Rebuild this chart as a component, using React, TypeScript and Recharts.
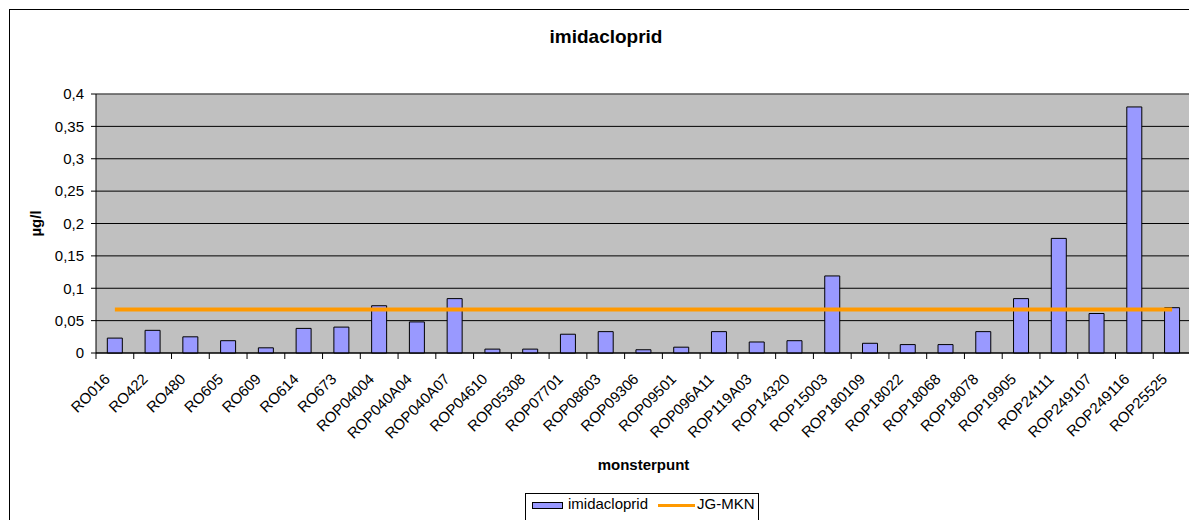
import { ComposedChart, Bar, Line, XAxis, YAxis, CartesianGrid, Legend, ReferenceLine } from 'recharts'

const monsterpunten = [
  'RO016', 'RO422', 'RO480', 'RO605', 'RO609', 'RO614', 'RO673', 'ROP04004', 'ROP040A04', 'ROP040A07',
  'ROP04610', 'ROP05308', 'ROP07701', 'ROP08603', 'ROP09306', 'ROP09501', 'ROP096A11', 'ROP119A03', 'ROP14320',
  'ROP15003', 'ROP180109', 'ROP18022', 'ROP18068', 'ROP18078', 'ROP19905', 'ROP24111', 'ROP249107', 'ROP249116',
  'ROP25525',
]
const imidacloprid = [
  0.023, 0.035, 0.025, 0.019, 0.008, 0.038, 0.040, 0.073, 0.048, 0.084,
  0.006, 0.006, 0.029, 0.033, 0.005, 0.009, 0.033, 0.017, 0.019,
  0.119, 0.015, 0.013, 0.013, 0.033, 0.084, 0.177, 0.061, 0.380,
  0.070,
]
// JG-MKN norm (constant limit)
const jgMkn = 0.067
const yTicks = [0, 0.05, 0.1, 0.15, 0.2, 0.25, 0.3, 0.35, 0.4]

const data = monsterpunten.map((name, i) => ({ name, imidacloprid: imidacloprid[i], jgMkn }))

const font = 'Liberation Sans, Arial, sans-serif'
const CHART_W = 1190
const CHART_H = 528
const Y_W = 86
const margin = { top: 84, right: 9, left: 0, bottom: 0 }
const band = (CHART_W - margin.left - margin.right - Y_W) / monsterpunten.length

const XTick = (props: any) => {
  const { x, y, payload } = props
  const ax = x - 4
  const ay = y + 27
  return (
    <g>
      <line x1={x - band / 2} x2={x - band / 2} y1={y} y2={y + 6} stroke="#000" />
      <text
        x={ax}
        y={ay}
        transform={`rotate(-45 ${ax} ${ay})`}
        textAnchor="end"
        fontSize={15}
        fontFamily={font}
        fill="#000"
      >
        {payload.value}
      </text>
    </g>
  )
}

const LegendBox = () => (
  <div
    style={{
      position: 'relative',
      width: 234,
      height: 30,
      border: '1px solid #000',
      boxSizing: 'border-box',
      background: '#fff',
      fontFamily: font,
      fontSize: 15,
      color: '#000',
    }}
  >
    <div
      style={{
        position: 'absolute', left: 6, top: 8, width: 31, height: 7,
        background: '#9999ff', border: '1px solid #000', boxSizing: 'border-box',
      }}
    />
    <span style={{ position: 'absolute', left: 42, top: 1, lineHeight: '18px' }}>imidacloprid</span>
    <div style={{ position: 'absolute', left: 132, top: 10, width: 37, height: 3, background: '#ff9900' }} />
    <span style={{ position: 'absolute', left: 171, top: 1, lineHeight: '18px' }}>JG-MKN</span>
  </div>
)

const App = () => {
  return (
    <div style={{ position: 'absolute', left: 9, top: 9, width: 1180, height: 511, overflow: 'hidden' }}>
      <div style={{ position: 'relative', width: 1200, height: 540, border: '1px solid #000', background: '#fff' }}>
        <div
          style={{
            position: 'absolute', left: 0, top: 16, width: 1192, textAlign: 'center',
            fontFamily: font, fontWeight: 'bold', fontSize: 19, color: '#000',
          }}
        >
          imidacloprid
        </div>
        <ComposedChart width={CHART_W} height={CHART_H} data={data} margin={margin} barCategoryGap="30%">
          <CartesianGrid vertical={false} stroke="#000" fill="#c0c0c0" fillOpacity={1} />
          <XAxis
            dataKey="name"
            interval={0}
            height={155}
            tickSize={0}
            tickMargin={0}
            tickLine={false}
            axisLine={{ stroke: '#000' }}
            tick={<XTick />}
            label={{
              value: 'monsterpunt',
              position: 'insideBottom',
              offset: 38,
              style: { fontFamily: font, fontWeight: 'bold', fontSize: 15, fill: '#000' },
            }}
          />
          <YAxis
            width={Y_W}
            type="number"
            domain={[0, 0.4]}
            ticks={yTicks}
            tickSize={5}
            tickMargin={7}
            axisLine={{ stroke: '#000' }}
            tickLine={{ stroke: '#000' }}
            tick={{ fontSize: 15, fill: '#000', fontFamily: font }}
            tickFormatter={(v: number) => String(v).replace('.', ',')}
            label={{
              value: 'µg/l',
              angle: -90,
              position: 'insideLeft',
              offset: 26,
              style: { fontFamily: font, fontWeight: 'bold', fontSize: 15, fill: '#000', textAnchor: 'middle' },
            }}
          />
          <ReferenceLine y={0.4} stroke="#808080" />
          <Bar
            dataKey="imidacloprid"
            name="imidacloprid"
            fill="#9999ff"
            stroke="#000"
            strokeWidth={1}
            isAnimationActive={false}
          />
          <Line
            dataKey="jgMkn"
            name="JG-MKN"
            type="linear"
            stroke="#ff9900"
            strokeWidth={4}
            dot={false}
            activeDot={false}
            isAnimationActive={false}
          />
          <Legend
            verticalAlign="bottom"
            content={() => <LegendBox />}
            wrapperStyle={{ left: 515, bottom: 15, width: 234, height: 30 }}
          />
        </ComposedChart>
      </div>
    </div>
  )
}

export default App
